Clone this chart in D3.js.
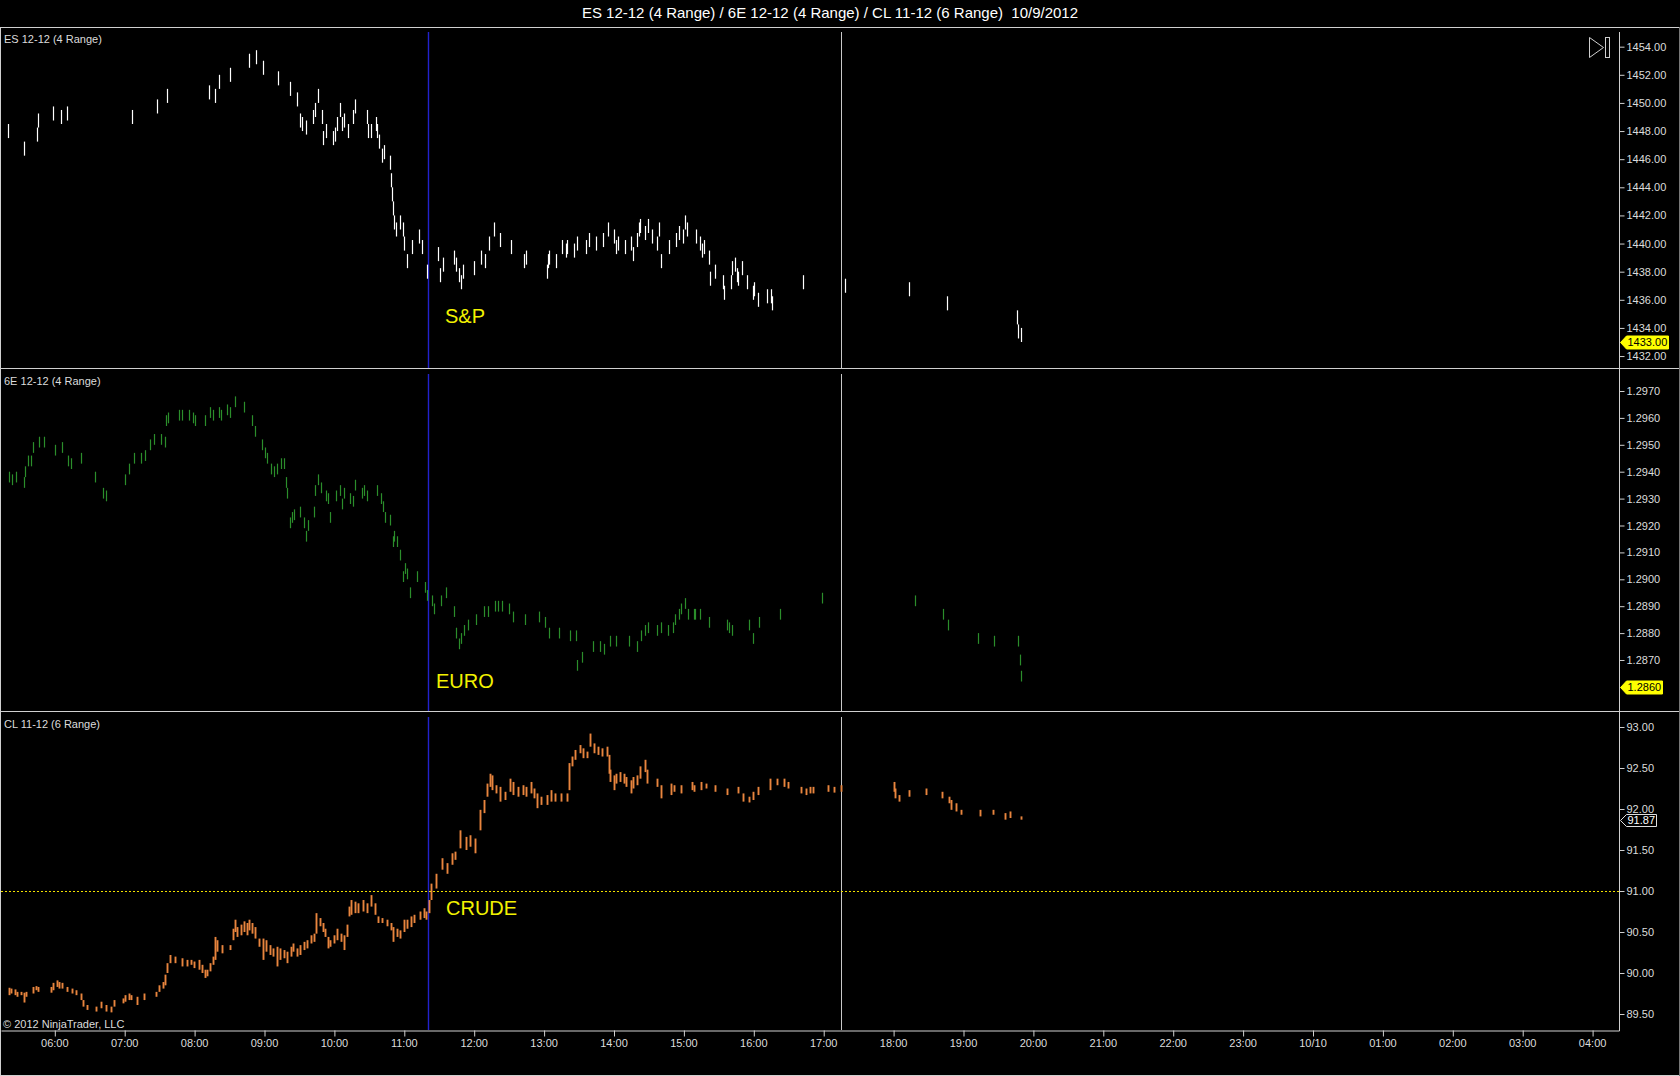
<!DOCTYPE html>
<html>
<head>
<meta charset="utf-8">
<script src="https://cdn.jsdelivr.net/npm/d3@7"></script>
<style>
  body { margin: 0; background: #000; }
  svg text { font-family: "Liberation Sans", Arial, sans-serif; }
</style>
</head>
<body>
<div id="chart"></div>
<script>
// ES 12-12, 4 tick range bars: [time, low]  (each bar spans 1.00)
const esBars = [
  ["05:20",1447.5],["05:34",1446.25],["05:45",1447.25],["05:46",1448.25],["05:59",1448.75],["06:06",1448.5],
  ["06:11",1448.75],["07:07",1448.5],["07:28",1449.25],["07:37",1450.0],["08:13",1450.25],["08:18",1450.0],
  ["08:21",1451.0],["08:31",1451.5],["08:47",1452.5],["08:53",1452.75],["08:59",1452.0],["09:12",1451.25],
  ["09:22",1450.5],["09:28",1449.75],["09:31",1448.25],["09:33",1448.0],["09:36",1447.75],["09:42",1448.5],
  ["09:44",1449.0],["09:46",1450.0],["09:50",1448.5],["09:51",1447.0],["09:53",1447.5],["09:59",1447.0],
  ["10:01",1447.25],["10:03",1448.0],["10:05",1449.0],["10:07",1448.0],["10:09",1448.25],["10:12",1447.5],
  ["10:16",1448.5],["10:18",1449.25],["10:28",1448.5],["10:29",1447.5],["10:32",1447.5],["10:36",1448.0],
  ["10:37",1447.5],["10:39",1446.75],["10:41",1445.75],["10:43",1446.0],["10:48",1445.25],["10:49",1444.0],
  ["10:50",1443.0],["10:51",1442.0],["10:52",1441.0],["10:53",1440.5],["10:57",1441.0],["10:59",1440.5],
  ["11:00",1439.5],["11:03",1438.25],["11:07",1439.25],["11:13",1440.0],["11:16",1439.25],["11:20",1437.5],
  ["11:29",1438.75],["11:31",1437.25],["11:34",1438.0],["11:43",1438.5],["11:45",1438.0],["11:47",1437.25],
  ["11:49",1436.75],["11:51",1437.5],["12:00",1437.75],["12:06",1438.5],["12:10",1438.25],["12:13",1439.5],
  ["12:17",1440.5],["12:23",1439.75],["12:32",1439.25],["12:43",1438.25],["12:45",1438.5],["13:03",1437.5],
  ["13:04",1438.25],["13:05",1438.5],["13:11",1438.25],["13:16",1439.25],["13:19",1439.0],["13:20",1439.25],
  ["13:26",1439.0],["13:29",1439.5],["13:36",1439.25],["13:39",1439.75],["13:45",1439.5],["13:51",1439.75],
  ["13:55",1440.5],["14:00",1440.0],["14:02",1439.25],["14:04",1439.5],["14:10",1439.25],["14:15",1439.5],
  ["14:17",1438.75],["14:20",1439.75],["14:22",1440.5],["14:23",1440.75],["14:27",1440.25],["14:30",1440.75],
  ["14:33",1440.0],["14:37",1439.5],["14:39",1440.5],["14:41",1438.25],["14:48",1439.25],["14:54",1439.75],
  ["14:56",1440.25],["15:00",1440.0],["15:01",1441.0],["15:03",1440.5],["15:11",1440.0],["15:14",1439.5],
  ["15:16",1439.0],["15:18",1439.25],["15:22",1438.5],["15:23",1437.0],["15:27",1437.5],["15:34",1436.75],
  ["15:35",1436.0],["15:41",1436.75],["15:42",1437.75],["15:44",1438.0],["15:46",1437.25],["15:47",1437.0],
  ["15:50",1437.75],["15:55",1436.75],["16:00",1436.0],["16:01",1436.25],["16:04",1435.5],["16:12",1435.75],
  ["16:15",1435.75],["16:16",1435.25],["16:43",1436.75],["17:19",1436.5],["18:14",1436.25],["18:46",1435.25],
  ["19:46",1434.25],["19:47",1433.25],["19:50",1433.0]
];

// 6E 12-12, 4 tick range bars: [time, low]  (each bar spans 0.0004)
const euroBars = [
  ["05:21",1.2936],["05:24",1.2935],["05:27",1.2936],["05:34",1.2934],["05:35",1.2938],["05:37",1.2942],
  ["05:40",1.2942],["05:42",1.2947],["05:47",1.2949],["05:51",1.2949],["06:01",1.2946],["06:07",1.2947],
  ["06:12",1.2942],["06:14",1.2941],["06:23",1.2943],["06:35",1.2936],["06:42",1.2930],["06:44",1.2929],
  ["07:01",1.2935],["07:04",1.2939],["07:08",1.2943],["07:14",1.2943],["07:18",1.2944],["07:22",1.2948],
  ["07:26",1.2950],["07:32",1.2950],["07:35",1.2949],["07:36",1.2957],["07:38",1.2958],["07:47",1.2959],
  ["07:50",1.2959],["07:56",1.2959],["07:59",1.2958],["08:01",1.2957],["08:09",1.2957],["08:14",1.2960],
  ["08:16",1.2959],["08:21",1.2960],["08:23",1.2959],["08:28",1.2961],["08:31",1.2960],["08:35",1.2964],
  ["08:43",1.2962],["08:50",1.2957],["08:52",1.2953],["08:58",1.2948],["09:01",1.2945],["09:03",1.2943],
  ["09:06",1.2939],["09:09",1.2938],["09:11",1.2939],["09:15",1.2941],["09:17",1.2941],["09:19",1.2934],
  ["09:20",1.2930],["09:22",1.2919],["09:24",1.2921],["09:26",1.2922],["09:31",1.2923],["09:34",1.2919],
  ["09:36",1.2914],["09:38",1.2918],["09:43",1.2923],["09:44",1.2931],["09:46",1.2935],["09:49",1.2932],
  ["09:53",1.2929],["09:55",1.2928],["09:57",1.2921],["10:02",1.2929],["10:05",1.2931],["10:07",1.2926],
  ["10:09",1.2930],["10:14",1.2928],["10:16",1.2927],["10:18",1.2933],["10:24",1.2930],["10:26",1.2931],
  ["10:28",1.2929],["10:37",1.2931],["10:40",1.2928],["10:42",1.2925],["10:44",1.2921],["10:48",1.2920],
  ["10:51",1.2912],["10:52",1.2914],["10:54",1.2912],["10:57",1.2907],["10:59",1.2899],["11:01",1.2902],
  ["11:03",1.2900],["11:05",1.2893],["11:11",1.2899],["11:18",1.2895],["11:20",1.2892],["11:24",1.2890],
  ["11:26",1.2887],["11:32",1.2890],["11:36",1.2893],["11:43",1.2886],["11:45",1.2878],["11:47",1.2874],
  ["11:49",1.2876],["11:52",1.2879],["11:55",1.2881],["12:02",1.2883],["12:09",1.2886],["12:12",1.2886],
  ["12:18",1.2888],["12:21",1.2888],["12:24",1.2888],["12:30",1.2887],["12:34",1.2884],["12:44",1.2883],
  ["12:56",1.2884],["13:01",1.2882],["13:05",1.2878],["13:13",1.2878],["13:23",1.2877],["13:28",1.2877],
  ["13:29",1.2866],["13:33",1.2869],["13:42",1.2873],["13:48",1.2873],["13:52",1.2872],["13:57",1.2875],
  ["14:02",1.2875],["14:13",1.2875],["14:20",1.2873],["14:24",1.2877],["14:27",1.2879],["14:30",1.2880],
  ["14:37",1.2879],["14:41",1.2880],["14:47",1.2879],["14:51",1.2880],["14:53",1.2883],["14:56",1.2885],
  ["14:58",1.2887],["15:01",1.2889],["15:04",1.2885],["15:09",1.2885],["15:10",1.2885],["15:14",1.2885],
  ["15:22",1.2882],["15:37",1.2881],["15:39",1.2880],["15:42",1.2879],["15:56",1.2881],["16:00",1.2876],
  ["16:05",1.2882],["16:23",1.2885],["16:59",1.2891],["18:19",1.2890],["18:43",1.2885],["18:47",1.2881],
  ["19:13",1.2876],["19:27",1.2875],["19:47",1.2875],["19:49",1.2868],["19:50",1.2862]
];

// CL 11-12, 6 tick range bars, stacked bars in one time slot read as one stroke: [time, high, low]
const crudeBars = [
  ["05:21",89.82,89.73],["05:23",89.81,89.75],["05:26",89.80,89.73],["05:28",89.77,89.71],["05:31",89.77,89.73],
  ["05:34",89.76,89.64],["05:36",89.77,89.71],["05:42",89.83,89.75],["05:44",89.84,89.79],["05:46",89.83,89.77],
  ["05:57",89.83,89.76],["05:59",89.88,89.79],["06:02",89.91,89.83],["06:04",89.89,89.81],["06:07",89.88,89.81],
  ["06:11",89.83,89.77],["06:15",89.81,89.75],["06:19",89.79,89.73],["06:23",89.75,89.67],["06:25",89.67,89.59],
  ["06:28",89.61,89.55],["06:36",89.59,89.53],["06:40",89.65,89.57],["06:44",89.61,89.53],["06:49",89.59,89.52],
  ["06:51",89.67,89.59],["06:59",89.69,89.63],["07:01",89.73,89.65],["07:04",89.75,89.67],["07:06",89.73,89.67],
  ["07:11",89.71,89.61],["07:17",89.75,89.67],["07:27",89.77,89.71],["07:30",89.85,89.77],["07:33",89.89,89.81],
  ["07:35",89.98,89.85],["07:37",90.12,90.00],["07:39",90.22,90.12],["07:44",90.20,90.12],["07:50",90.18,90.08],
  ["07:54",90.16,90.08],["07:57",90.16,90.10],["08:00",90.14,90.06],["08:04",90.16,90.04],["08:07",90.10,90.00],
  ["08:09",90.04,89.94],["08:11",90.04,89.96],["08:14",90.12,90.02],["08:16",90.20,90.10],["08:18",90.44,90.16],
  ["08:20",90.40,90.26],["08:24",90.34,90.24],["08:31",90.34,90.28],["08:33",90.54,90.40],["08:35",90.65,90.50],
  ["08:37",90.56,90.44],["08:40",90.59,90.46],["08:43",90.63,90.50],["08:45",90.61,90.46],["08:47",90.65,90.52],
  ["08:50",90.61,90.48],["08:52",90.56,90.42],["08:56",90.42,90.32],["08:59",90.42,90.16],["09:02",90.40,90.26],
  ["09:05",90.34,90.22],["09:08",90.30,90.20],["09:11",90.32,90.08],["09:14",90.30,90.16],["09:17",90.28,90.18],
  ["09:20",90.26,90.12],["09:23",90.32,90.20],["09:25",90.36,90.26],["09:28",90.30,90.20],["09:31",90.34,90.22],
  ["09:34",90.38,90.28],["09:37",90.40,90.30],["09:40",90.46,90.36],["09:43",90.48,90.38],["09:45",90.73,90.48],
  ["09:48",90.67,90.57],["09:51",90.61,90.50],["09:52",90.54,90.44],["09:55",90.44,90.30],["09:57",90.40,90.32],
  ["10:00",90.46,90.36],["10:03",90.54,90.40],["10:06",90.48,90.38],["10:09",90.46,90.28],["10:11",90.59,90.44],
  ["10:13",90.81,90.69],["10:15",90.89,90.71],["10:18",90.87,90.73],["10:21",90.85,90.73],["10:25",90.89,90.75],
  ["10:28",90.85,90.73],["10:32",90.95,90.81],["10:35",90.85,90.71],["10:38",90.69,90.61],["10:41",90.67,90.61],
  ["10:46",90.65,90.57],["10:49",90.61,90.52],["10:51",90.56,90.38],["10:54",90.54,90.44],["10:57",90.52,90.42],
  ["11:00",90.65,90.50],["11:03",90.65,90.54],["11:06",90.69,90.56],["11:09",90.71,90.61],["11:14",90.75,90.65],
  ["11:17",90.79,90.67],["11:19",90.75,90.65],["11:22",90.89,90.73],["11:23",91.09,90.89],["11:28",91.21,91.03],
  ["11:33",91.40,91.26],["11:37",91.34,91.21],["11:41",91.46,91.32],["11:44",91.48,91.38],["11:48",91.74,91.52],
  ["11:53",91.66,91.50],["11:57",91.68,91.54],["12:01",91.64,91.46],["12:05",91.99,91.74],["12:09",92.11,91.95],
  ["12:11",92.31,92.15],["12:14",92.43,92.27],["12:16",92.41,92.23],["12:19",92.29,92.19],["12:23",92.27,92.09],
  ["12:27",92.21,92.11],["12:31",92.37,92.21],["12:34",92.33,92.17],["12:38",92.27,92.15],["12:42",92.29,92.17],
  ["12:45",92.27,92.15],["12:49",92.33,92.19],["12:52",92.25,92.13],["12:54",92.19,92.01],["12:58",92.15,92.05],
  ["13:03",92.17,92.05],["13:06",92.23,92.09],["13:10",92.19,92.09],["13:15",92.19,92.09],["13:20",92.19,92.09],
  ["13:22",92.56,92.23],["13:24",92.64,92.52],["13:27",92.72,92.60],["13:31",92.78,92.68],["13:34",92.74,92.62],
  ["13:37",92.70,92.62],["13:40",92.92,92.76],["13:43",92.80,92.68],["13:47",92.76,92.66],["13:50",92.74,92.64],
  ["13:54",92.76,92.64],["13:56",92.66,92.43],["13:57",92.48,92.33],["14:00",92.41,92.23],["14:02",92.43,92.31],
  ["14:06",92.45,92.33],["14:09",92.43,92.31],["14:11",92.39,92.27],["14:15",92.35,92.19],["14:17",92.39,92.25],
  ["14:20",92.41,92.29],["14:23",92.52,92.37],["14:27",92.60,92.45],["14:29",92.48,92.31],["14:37",92.37,92.27],
  ["14:41",92.29,92.13],["14:49",92.31,92.17],["14:52",92.29,92.21],["14:58",92.29,92.19],["15:07",92.33,92.23],
  ["15:09",92.29,92.21],["15:15",92.33,92.23],["15:19",92.31,92.25],["15:27",92.29,92.21],["15:37",92.25,92.17],
  ["15:47",92.27,92.19],["15:51",92.19,92.09],["15:56",92.15,92.08],["16:00",92.21,92.11],["16:04",92.27,92.17],
  ["16:14",92.37,92.23],["16:20",92.37,92.29],["16:26",92.37,92.27],["16:30",92.33,92.25],["16:41",92.27,92.19],
  ["16:45",92.25,92.17],["16:49",92.27,92.19],["16:51",92.27,92.19],["17:04",92.29,92.21],["17:09",92.27,92.20],
  ["17:15",92.29,92.21],["18:01",92.33,92.21],["18:02",92.25,92.13],["18:05",92.17,92.09],["18:14",92.23,92.15],
  ["18:28",92.25,92.17],["18:42",92.21,92.13],["18:48",92.15,92.07],["18:50",92.11,91.99],["18:54",92.07,91.97],
  ["18:58",91.99,91.93],["19:15",91.99,91.91],["19:26",91.99,91.93],["19:36",91.95,91.87],["19:40",91.97,91.89],
  ["19:50",91.91,91.87]
];

// price axis tick labels
const esTicks = [1432,1434,1436,1438,1440,1442,1444,1446,1448,1450,1452,1454];
const euroTicks = [1.2870,1.2880,1.2890,1.2900,1.2910,1.2920,1.2930,1.2940,1.2950,1.2960,1.2970];
const crudeTicks = [89.5,90.0,90.5,91.0,91.5,92.0,92.5,93.0];

// last prices and markers
const lastPrices = [1433.00, 1.2860, 91.87];
const crudeLevel = 91.00;     // horizontal dashed line
const markerTime = "11:21";   // blue vertical line
const sessionEnd = "17:15";   // white vertical line

const width = 1680, height = 1076;
const axisX = 1619;
const frameColor = '#d0d0d0';
const textColor = '#dcdcdc';

const parseTime = d3.timeParse('%Y-%m-%d %H:%M');
const t = s => parseTime('2012-10-09 ' + s);
const crisp = v => Math.round(v) + 0.5;

const svg = d3.select('#chart')
    .append('svg')
    .attr('width', width)
    .attr('height', height)
    .style('background', '#000');

const x = d3.scaleTime()
    .domain([new Date(2012,9,9,5,14,15), new Date(2012,9,10,4,23,5)])
    .range([1, axisX]);

// three stacked panels
const panels = [
    {label:'ES 12-12 (4 Range)', top:27, bottom:368, domain:[1431.15,1455.4], ticks:esTicks, fmt:'.2f',
     color:'#ffffff', width:1.2, note:'S&P', noteX:445, noteY:316,
     bars: esBars.map(d => ({t:t(d[0]), lo:d[1], hi:d[1]+1.0}))},
    {label:'6E 12-12 (4 Range)', top:369, bottom:711, domain:[1.285104,1.297818], ticks:euroTicks, fmt:'.4f',
     color:'#2b8e2b', width:1.2, note:'EURO', noteX:436, noteY:681,
     bars: euroBars.map(d => ({t:t(d[0]), lo:d[1], hi:d[1]+0.0004}))},
    {label:'CL 11-12 (6 Range)', top:712, bottom:1030, domain:[89.305,93.183], ticks:crudeTicks, fmt:'.2f',
     color:'#e8853e', width:1.9, note:'CRUDE', noteX:446, noteY:908,
     bars: crudeBars.map(d => ({t:t(d[0]), lo:d[2], hi:d[1]}))}
];

// title
svg.append('text')
    .attr('x', 830)
    .attr('y', 13)
    .attr('dy', '0.35em')
    .style('text-anchor', 'middle')
    .style('white-space', 'pre')
    .style('fill', '#ffffff')
    .style('font-size', '15px')
    .text('ES 12-12 (4 Range) / 6E 12-12 (4 Range) / CL 11-12 (6 Range)\u00a0 10/9/2012');

panels.forEach((p, i) => {
    const y = d3.scaleLinear().domain(p.domain).range([p.bottom, p.top]);
    p.y = y;

    const g = svg.append('g').attr('class', 'panel');

    g.append('clipPath')
        .attr('id', 'clip' + i)
        .append('rect')
        .attr('x', 1).attr('y', p.top + 1)
        .attr('width', axisX - 1).attr('height', p.bottom - p.top - 1);

    // vertical markers
    g.append('line')
        .attr('x1', crisp(x(t(sessionEnd)))).attr('x2', crisp(x(t(sessionEnd))))
        .attr('y1', p.top + 5).attr('y2', p.bottom)
        .style('stroke', '#c8c8c8').style('stroke-width', 1);

    g.append('line')
        .attr('x1', crisp(x(t(markerTime)))).attr('x2', crisp(x(t(markerTime))))
        .attr('y1', p.top + 5).attr('y2', p.bottom)
        .style('stroke', '#2222cc').style('stroke-width', 1.4);

    // range bars
    g.append('g')
        .attr('clip-path', 'url(#clip' + i + ')')
        .selectAll('line')
        .data(p.bars)
        .enter()
        .append('line')
        .attr('x1', d => crisp(x(d.t)))
        .attr('x2', d => crisp(x(d.t)))
        .attr('y1', d => y(d.hi))
        .attr('y2', d => y(d.lo))
        .style('stroke', p.color)
        .style('stroke-width', p.width);

    // price axis
    const yAxis = d3.axisRight(y)
        .tickValues(p.ticks)
        .tickFormat(d3.format(p.fmt))
        .tickSize(5)
        .tickPadding(2);

    const ag = g.append('g')
        .attr('transform', 'translate(' + (axisX + 0.5) + ',0)')
        .call(yAxis);
    ag.select('.domain').remove();
    ag.selectAll('line').style('stroke', frameColor);
    ag.selectAll('text')
        .style('fill', textColor)
        .style('font-size', '11px')
        .style('font-family', '"Liberation Sans", Arial, sans-serif');

    // panel name
    g.append('text')
        .attr('x', 4)
        .attr('y', p.top + 12)
        .attr('dy', '0.35em')
        .style('fill', textColor)
        .style('font-size', '11px')
        .text(p.label);

    // yellow annotation
    g.append('text')
        .attr('x', p.noteX)
        .attr('y', p.noteY)
        .attr('dy', '0.35em')
        .style('fill', '#f2f200')
        .style('font-size', '20px')
        .text(p.note);
});

// dashed level on crude
svg.append('line')
    .attr('x1', 1).attr('x2', axisX)
    .attr('y1', crisp(panels[2].y(crudeLevel))).attr('y2', crisp(panels[2].y(crudeLevel)))
    .style('stroke', '#f0e000')
    .style('stroke-width', 1)
    .style('stroke-dasharray', '2,2');

// last price markers on the price axis
lastPrices.forEach((v, i) => {
    const p = panels[i];
    const cy = Math.round(p.y(v)) + 0.5;
    const txt = d3.format(p.fmt)(v);
    const w = i == 0 ? 48 : (i == 1 ? 42 : 36);
    const h = i == 2 ? 6 : 6.5;
    const x0 = axisX + 1.5;
    const pts = [[x0, cy], [x0 + 6, cy - h], [x0 + w, cy - h], [x0 + w, cy + h], [x0 + 6, cy + h]];
    svg.append('polygon')
        .attr('points', pts.map(d => d.join(',')).join(' '))
        .style('fill', i == 2 ? '#000' : '#ffff00')
        .style('stroke', i == 2 ? '#e0e0e0' : '#ffff00')
        .style('stroke-width', 1);
    svg.append('text')
        .attr('x', x0 + 7)
        .attr('y', cy)
        .attr('dy', '0.35em')
        .style('fill', i == 2 ? '#ffffff' : '#000000')
        .style('font-size', '11px')
        .text(txt);
});

// time axis
const xAxis = d3.axisBottom(x)
    .ticks(d3.timeHour.every(1))
    .tickFormat(d => d.getHours() === 0 ? d3.timeFormat('%m/%d')(d) : d3.timeFormat('%H:%M')(d))
    .tickSize(6)
    .tickSizeOuter(0)
    .tickPadding(3);

const xg = svg.append('g')
    .attr('transform', 'translate(0,1030.5)')
    .call(xAxis);
xg.select('.domain').style('stroke', frameColor);
xg.selectAll('.tick line').style('stroke', frameColor).attr('transform', 'translate(0.5,0)');
xg.selectAll('text')
    .style('fill', textColor)
    .style('font-size', '11px')
    .style('font-family', '"Liberation Sans", Arial, sans-serif');

// frame and separators
const hLines = [[27.5, 0, width], [368.5, 0, width], [711.5, 0, width], [1075.5, 0, width]];
hLines.forEach(d => {
    svg.append('line')
        .attr('x1', d[1]).attr('x2', d[2])
        .attr('y1', d[0]).attr('y2', d[0])
        .style('stroke', frameColor);
});
svg.append('line').attr('x1', 0.5).attr('x2', 0.5).attr('y1', 27).attr('y2', 1076).style('stroke', frameColor);
svg.append('line').attr('x1', 1679.5).attr('x2', 1679.5).attr('y1', 27).attr('y2', 1076).style('stroke', '#777');
svg.append('line').attr('x1', axisX + 0.5).attr('x2', axisX + 0.5).attr('y1', 32).attr('y2', 1031).style('stroke', frameColor);

// "go to last bar" button
svg.append('polygon')
    .attr('points', '1589.5,37.5 1589.5,57.5 1603.5,47.5')
    .style('fill', 'none').style('stroke', '#cfcfcf');
svg.append('rect')
    .attr('x', 1605.5).attr('y', 37.5).attr('width', 4).attr('height', 20)
    .style('fill', 'none').style('stroke', '#cfcfcf');

// copyright
svg.append('text')
    .attr('x', 3)
    .attr('y', 1024)
    .attr('dy', '0.35em')
    .style('fill', textColor)
    .style('font-size', '11px')
    .text('\u00a9 2012 NinjaTrader, LLC');
</script>
</body>
</html>
